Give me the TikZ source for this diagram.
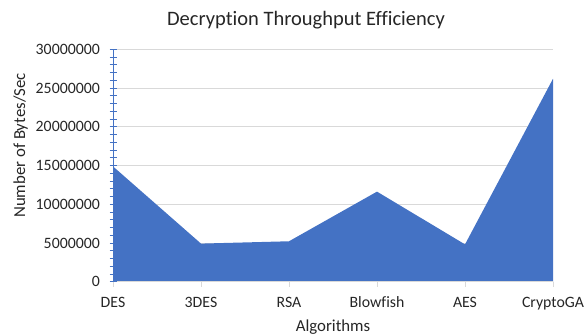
\documentclass[tikz,border=0pt]{standalone}
\usepackage{fontspec}
\setmainfont[Ligatures=NoCommon]{Carlito}
\definecolor{areablue}{HTML}{4472C4}
\definecolor{gridgray}{HTML}{D9D9D9}
\definecolor{labeltext}{HTML}{262626}
\begin{document}
\begin{tikzpicture}[x=1pt,y=-1pt,
  ticklabel/.style={text=labeltext,font=\fontsize{15.8}{18}\selectfont,inner sep=0pt},
  axistitle/.style={text=labeltext,font=\fontsize{16.8}{19}\selectfont,inner sep=0pt},
  charttitle/.style={text=labeltext,font=\fontsize{20.5}{24}\selectfont,inner sep=0pt},
  grid line/.style={gridgray,line width=1pt},
  value axis/.style={areablue,line width=1pt}]
\useasboundingbox (0,0) rectangle (584,336);
% plot area: x from 113 to 553, value 0 at y=282, 30000000 at y=49.3
\def\yzero{282}
\def\ystep{7.757}% pixels per million
% horizontal gridlines
\foreach \k in {5,10,...,30}
  \draw[grid line] (113,{\yzero-\k*\ystep}) -- (553,{\yzero-\k*\ystep});
% filled area series
\fill[areablue] (113,\yzero)
  -- (113,{\yzero-14.9*\ystep})
  -- (201,{\yzero-4.95*\ystep})
  -- (289,{\yzero-5.25*\ystep})
  -- (377,{\yzero-11.65*\ystep})
  -- (465,{\yzero-4.85*\ystep})
  -- (553,{\yzero-26.2*\ystep})
  -- (553,\yzero) -- cycle;
% category axis with tick marks
\draw[grid line] (113,\yzero) -- (553,\yzero);
\foreach \x in {113,201,289,377,465,553}
  \draw[grid line] (\x,\yzero) -- (\x,\yzero+5);
% value axis with major and minor ticks
\draw[value axis] (113,49.3) -- (113,\yzero);
\foreach \m in {0,...,30}
  \draw[value axis] (109.5,{\yzero-\m*\ystep}) -- (116.5,{\yzero-\m*\ystep});
% value labels
\foreach \v/\lab [count=\i] in {0/0,5/5000000,10/10000000,15/15000000,20/20000000,25/25000000,30/30000000}
  \node[ticklabel,anchor=base east] (ylab\i) at (100,{\yzero-\v*\ystep+5}) {\lab};
% category labels
\foreach \x/\lab [count=\i] in {113/DES,201/3DES,289/RSA,377/Blowfish,465/AES,553/CryptoGA}
  \node[ticklabel,anchor=base] (xlab\i) at (\x,307.5) {\lab};
% titles
\node[charttitle,anchor=base] (title) at (306,26) {Decryption Throughput Efficiency};
\node[axistitle,anchor=base] (xtitle) at (333,331.5) {Algorithms};
\node[axistitle,anchor=base,rotate=90] (ytitle) at (25,145.5) {Number of Bytes/Sec};
\end{tikzpicture}
\end{document}
